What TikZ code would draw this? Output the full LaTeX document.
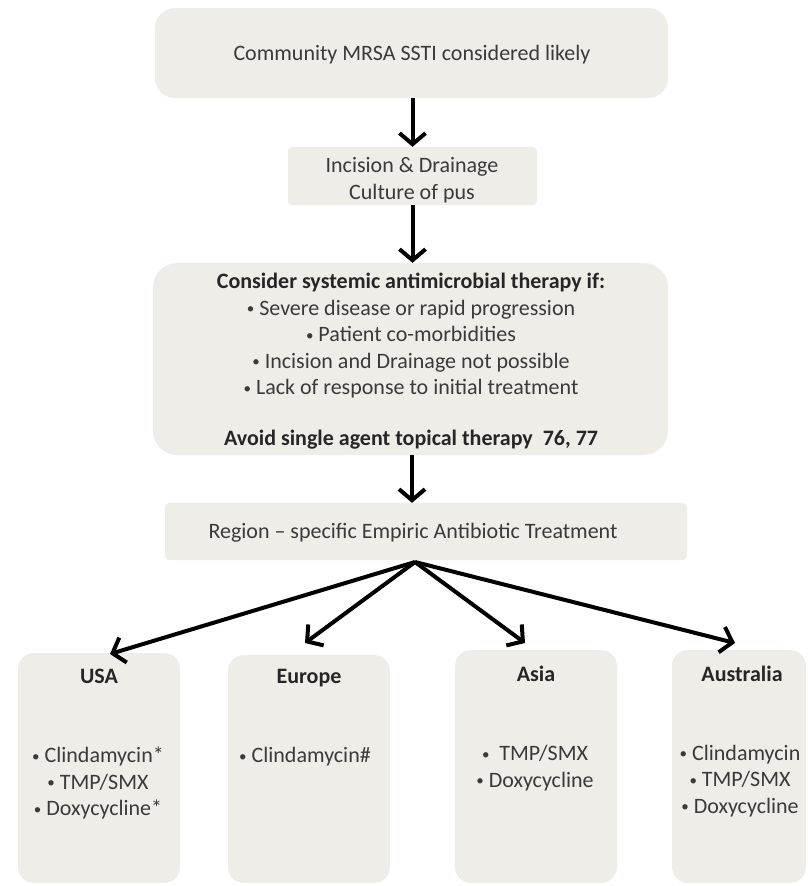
\documentclass[tikz,border=0pt]{standalone}
\usepackage{fontspec}
\setmainfont{Carlito}
\usetikzlibrary{arrows.meta}
\definecolor{boxfill}{HTML}{EFEDE8}
\definecolor{txt}{HTML}{3A3A3A}
\newcommand{\mybul}{{\fontsize{15}{15}\selectfont\raisebox{1.5pt}{•}}}
\tikzset{
  box/.style={fill=boxfill, draw=none, inner sep=0pt},
  txtnode/.style={text=txt, font=\fontsize{22}{26.5}\selectfont, inner sep=0pt, align=center},
  boldtxt/.style={text=black!85, font=\fontsize{22}{26.5}\selectfont\bfseries, inner sep=0pt, align=center},
  flow/.style={line width=4pt, -{Straight Barb[length=11pt,width=26pt]}}
}
\begin{document}
\begin{tikzpicture}[x=1pt,y=-1pt]
\useasboundingbox (0,0) rectangle (807,886);
% boxes
\node[box, rounded corners=20pt, minimum width=513pt, minimum height=90pt] (top) at (411.5,53) {};
\node[box, rounded corners=4pt, minimum width=249pt, minimum height=58pt] (id) at (412.5,176) {};
\node[box, rounded corners=24pt, minimum width=515pt, minimum height=192pt] (cons) at (410.5,359) {};
\node[box, rounded corners=4pt, minimum width=522pt, minimum height=57pt] (region) at (426,531.5) {};
\node[box, rounded corners=16pt, minimum width=162pt, minimum height=230pt] (usa) at (99,768) {};
\node[box, rounded corners=16pt, minimum width=162pt, minimum height=228pt] (eur) at (309,769) {};
\node[box, rounded corners=16pt, minimum width=162pt, minimum height=233pt] (asia) at (536,766.5) {};
\node[box, rounded corners=16pt, minimum width=134pt, minimum height=233pt] (aus) at (739,766.5) {};
% texts
\node[txtnode] (t1) at (412,55) {Community MRSA SSTI considered likely};
\node[txtnode] (t2) at (412,180) {Incision \& Drainage\\Culture of pus};
\node[txtnode] (t3) at (411,336) {{\bfseries\color{black!85}Consider systemic antimicrobial therapy if:}\\
  \mybul\ Severe disease or rapid progression\\
  \mybul\ Patient co-morbidities\\
  \mybul\ Incision and Drainage not possible\\
  \mybul\ Lack of response to initial treatment};
\node[boldtxt] (t4) at (411,440) {Avoid single agent topical therapy\ \ 76, 77};
\node[txtnode] (t5) at (413,533) {Region -- specific Empiric Antibiotic Treatment};
\node[boldtxt] (usaT) at (99,676) {USA};
\node[txtnode] (usaB) at (98,783) {\mybul\ Clindamycin*\\\mybul\ TMP/SMX\\\mybul\ Doxycycline*};
\node[boldtxt] (eurT) at (309,678) {Europe};
\node[txtnode] (eurB) at (305,757) {\mybul\ Clindamycin\#};
\node[boldtxt] (asiaT) at (536,674) {Asia};
\node[txtnode] (asiaB) at (535,768) {\mybul\ \ TMP/SMX\\\mybul\ Doxycycline};
\node[boldtxt] (ausT) at (742,674) {Australia};
\node[txtnode] (ausB) at (740,781) {\mybul\ Clindamycin\\\mybul\ TMP/SMX\\\mybul\ Doxycycline};
% connectors
\coordinate (conv) at (415,562);
\coordinate (tipUSA) at (110,654);
\coordinate (tipEur) at (305,643);
\coordinate (tipAsia) at (525,643);
\coordinate (tipAus) at (735,643);
\draw[flow] (top.south -| id.north) -- (id.north);
\draw[flow] (id.south) -- (id.south |- cons.north);
\draw[flow] (cons.south -| 412,0) -- (region.north -| 412,0);
\draw[flow] (conv) -- (tipUSA);
\draw[flow] (conv) -- (tipEur);
\draw[flow] (conv) -- (tipAsia);
\draw[flow] (conv) -- (tipAus);
\end{tikzpicture}
\end{document}
